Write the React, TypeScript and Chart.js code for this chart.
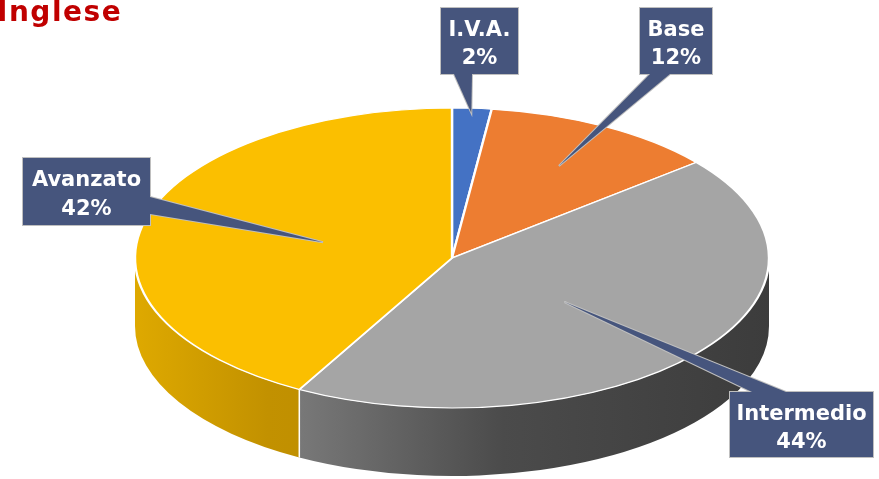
import React, { useEffect, useRef } from "react";
import { Chart, registerables } from "chart.js";

Chart.register(...registerables);

// ---- data ----
const categories = ["I.V.A.", "Base", "Intermedio", "Avanzato"];
const values = [2, 12, 44, 42];
const percentLabels = ["2%", "12%", "44%", "42%"];

// ---- styles ----
const sliceColors = ["#4472C4", "#ED7D31", "#A5A5A5", "#FBBF00"];
const wallStops: [number, string][][] = [
  [[0, "#3a62a8"], [1, "#203864"]],
  [[0, "#c55a11"], [1, "#843c0c"]],
  [[0, "#8a8a8a"], [0.21, "#7f7f7f"], [0.58, "#4b4b4b"], [1, "#3c3c3c"]],
  [[0, "#DEA900"], [0.21, "#C29100"], [1, "#a87d00"]],
];
const RX = 317; // horizontal radius of the pie top
const RY = 150; // vertical radius of the pie top
const DEPTH = 68; // thickness of the pie
const BOX_FILL = "#46557D";
const BOX_STROKE = "#BFBFBF";

// callout boxes: x, y, w, h, pointer base points, anchor fraction of radius
const callouts = [
  { x: 441, y: 8, w: 77, h: 66, base: [[454, 74], [472, 74]], frac: 0.97 },
  { x: 640, y: 8, w: 72, h: 66, base: [[650, 74], [670, 74]], frac: 0.7 },
  { x: 730, y: 392, w: 143, h: 65, base: [[752, 392], [786, 392]], frac: 0.46 },
  { x: 23, y: 158, w: 127, h: 67, base: [[150, 197], [150, 214]], frac: 0.42 },
];

const pie3d = {
  id: "pie3d",
  beforeDatasetsDraw(chart: any) {
    const meta = chart.getDatasetMeta(0);
    const ctx = chart.ctx as CanvasRenderingContext2D;
    const arcs = meta.data;
    chart.$pieSaved = false;
    if (!arcs.length) return;
    const { x: cx, y: cy, outerRadius: R } = arcs[0].getProps(["x", "y", "outerRadius"], true);
    const rx = RX, ry = RY;
    arcs.forEach((arc: any, i: number) => {
      const { startAngle, endAngle } = arc.getProps(["startAngle", "endAngle"], true);
      const a1 = Math.max(startAngle, 0);
      const a2 = Math.min(endAngle, Math.PI);
      if (a2 <= a1) return;
      const g = ctx.createLinearGradient(cx - rx, 0, cx + rx, 0);
      wallStops[i].forEach(([f, c]) => g.addColorStop(f, c));
      ctx.save();
      ctx.beginPath();
      ctx.ellipse(cx, cy, rx, ry, 0, a1, a2, false);
      ctx.ellipse(cx, cy + DEPTH, rx, ry, 0, a2, a1, true);
      ctx.closePath();
      ctx.fillStyle = g;
      ctx.fill();
      ctx.strokeStyle = "#ffffff";
      ctx.lineWidth = 1.5;
      [a1, a2].forEach((a) => {
        if (a > 0.001 && a < Math.PI - 0.001) {
          const px = cx + rx * Math.cos(a);
          const py = cy + ry * Math.sin(a);
          ctx.beginPath();
          ctx.moveTo(px, py);
          ctx.lineTo(px, py + DEPTH);
          ctx.stroke();
        }
      });
      ctx.restore();
    });
    ctx.save();
    ctx.translate(cx, cy);
    ctx.scale(rx / R, ry / R);
    ctx.translate(-cx, -cy);
    chart.$pieSaved = true;
  },
  afterDatasetsDraw(chart: any) {
    const ctx = chart.ctx as CanvasRenderingContext2D;
    if (chart.$pieSaved) ctx.restore();
    chart.$pieSaved = false;
    const meta = chart.getDatasetMeta(0);
    const arcs = meta.data;
    if (!arcs.length) return;
    arcs.forEach((arc: any, i: number) => {
      const { x: cx, y: cy, startAngle, endAngle } = arc.getProps(["x", "y", "startAngle", "endAngle"], true);
      const c = callouts[i];
      const mid = (startAngle + endAngle) / 2;
      const tx = cx + RX * c.frac * Math.cos(mid);
      const ty = cy + RY * c.frac * Math.sin(mid);
      ctx.save();
      // pointer
      const ptr = new Path2D();
      ptr.moveTo(c.base[0][0], c.base[0][1]);
      ptr.lineTo(tx, ty);
      ptr.lineTo(c.base[1][0], c.base[1][1]);
      ptr.closePath();
      ctx.lineWidth = 2;
      ctx.strokeStyle = BOX_STROKE;
      ctx.lineJoin = "miter";
      ctx.stroke(ptr);
      ctx.strokeRect(c.x, c.y, c.w, c.h);
      ctx.fillStyle = BOX_FILL;
      ctx.fill(ptr);
      ctx.fillRect(c.x, c.y, c.w, c.h);
      // text
      ctx.fillStyle = "#ffffff";
      ctx.font = "bold 21px 'DejaVu Sans'";
      ctx.textAlign = "center";
      ctx.textBaseline = "middle";
      ctx.fillText(categories[i], c.x + c.w / 2, c.y + c.h * 0.34);
      ctx.fillText(percentLabels[i], c.x + c.w / 2, c.y + c.h * 0.77);
      ctx.restore();
    });
  },
};

export default function App() {
  const ref = useRef<HTMLCanvasElement | null>(null);
  useEffect(() => {
    if (!ref.current) return;
    const chart = new Chart(ref.current, {
      type: "pie",
      data: {
        labels: categories,
        datasets: [
          {
            data: values,
            backgroundColor: sliceColors,
            borderColor: "#ffffff",
            borderWidth: 1.5,
            clip: false as any,
          } as any,
        ],
      },
      options: {
        responsive: false,
        animation: false,
        events: [],
        layout: { padding: { left: 252, right: 227, top: 58, bottom: 21 } },
        plugins: {
          legend: { display: false },
          tooltip: { enabled: false },
          title: { display: false },
        },
      },
      plugins: [pie3d],
    });
    return () => chart.destroy();
  }, []);
  return (
    <div
      style={{
        position: "fixed",
        left: 0,
        top: 0,
        width: 879,
        height: 479,
        overflow: "hidden",
        background: "#ffffff",
      }}
    >
      <canvas ref={ref} width={879} height={479} style={{ display: "block" }} />
      <div
        style={{
          position: "absolute",
          left: -3,
          top: -2,
          fontFamily: "'DejaVu Sans', sans-serif",
          fontWeight: "bold",
          fontSize: 28,
          lineHeight: "28px",
          letterSpacing: 1.5,
          color: "#C00000",
          whiteSpace: "nowrap",
        }}
      >
        Inglese
      </div>
    </div>
  );
}
